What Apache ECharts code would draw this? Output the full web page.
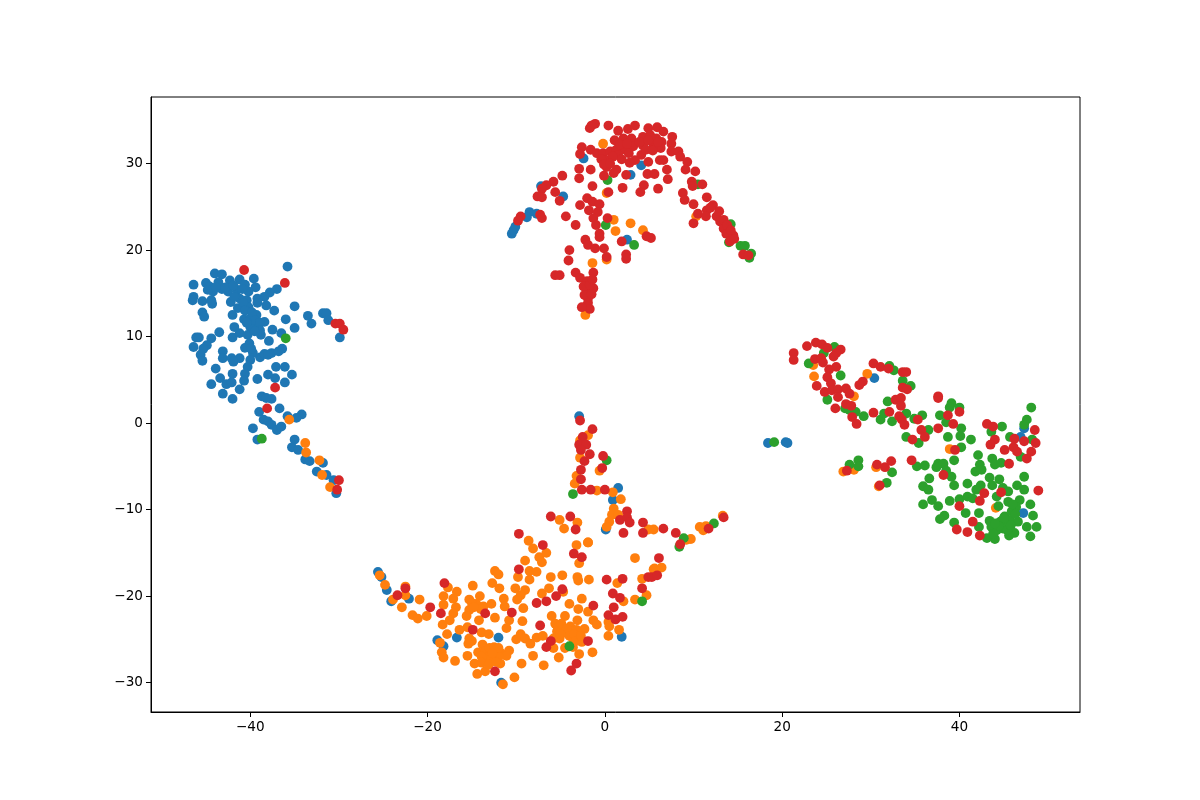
<!DOCTYPE html>
<html>
<head>
<meta charset="utf-8">
<title>scatter</title>
<script src="https://cdn.jsdelivr.net/npm/echarts@6/dist/echarts.min.js"></script>
<style>
  html, body { margin: 0; padding: 0; background: #fff; }
  #chart { width: 1200px; height: 800px; }
</style>
</head>
<body>
<div id="chart"></div>
<script>
const xTicks = [-40, -20, 0, 20, 40]
const yTicks = [-30, -20, -10, 0, 10, 20, 30]

const bluePoints = [
  [-35.8,18.1],[-44.0,17.3],[-43.2,17.2],[-39.6,16.7],[-46.4,16.0],[-45.0,16.2],[-44.6,15.8],[-43.6,16.3],[-42.3,16.5],[-41.2,16.6],
  [-40.6,16.0],[-39.4,15.7],[-44.2,15.2],[-43.2,15.5],[-42.5,15.2],[-41.5,15.4],[-40.2,15.2],[-37.0,15.5],[-37.8,15.1],[-38.4,14.6],
  [-39.2,14.4],[-39.2,13.9],[-46.4,14.6],[-46.5,14.2],[-45.4,14.1],[-44.3,13.8],[-44.4,14.2],[-42.2,14.0],[-41.2,14.4],[-40.4,14.2],
  [-41.4,13.3],[-40.2,13.4],[-38.2,13.6],[-35.0,13.5],[-37.3,13.0],[-45.4,12.8],[-45.2,12.3],[-42.0,12.5],[-39.3,12.5],[-40.7,12.0],
  [-40.0,12.1],[-39.7,11.5],[-36.0,12.0],[-33.5,12.4],[-33.1,11.5],[-31.8,12.7],[-31.4,12.7],[-31.2,11.9],[-41.8,11.1],[-40.0,11.1],
  [-38.4,11.7],[-39.1,11.0],[-38.8,10.2],[-37.5,10.8],[-36.5,10.4],[-35.0,11.0],[-43.5,10.5],[-46.1,9.9],[-45.8,9.9],[-44.4,9.8],
  [-42.0,9.9],[-41.2,10.4],[-40.3,10.2],[-40.1,9.2],[-37.9,9.5],[-44.9,9.0],[-46.4,8.8],[-45.3,8.6],[-45.6,7.9],[-45.4,7.2],
  [-43.1,8.3],[-43.1,7.5],[-42.1,7.5],[-41.2,7.5],[-41.9,7.1],[-39.7,8.1],[-40.0,7.3],[-40.3,6.5],[-38.9,7.6],[-38.4,8.0],
  [-37.6,8.1],[-36.8,8.3],[-36.4,8.6],[-43.9,6.3],[-40.6,5.7],[-43.4,5.2],[-42.0,5.7],[-38.0,5.6],[-37.1,6.5],[-36.1,6.5],
  [-35.3,5.6],[-37.2,5.2],[-36.1,4.7],[-39.2,5.1],[-40.7,4.9],[-44.4,4.5],[-42.7,4.5],[-42.1,4.7],[-43.1,3.4],[-41.2,3.9],
  [-42.0,2.8],[-38.7,3.1],[-37.6,2.8],[-38.2,2.9],[-36.7,1.7],[-39.0,1.3],[-35.8,0.8],[-34.2,1.0],[-34.8,0.6],[-38.5,0.4],
  [-38.0,0.2],[-37.6,-0.2],[-37.0,-0.8],[-39.7,-0.6],[-39.2,-1.9],[-36.5,-0.4],[-35.0,-1.9],[-35.3,-2.8],[-34.6,-3.1],[-33.8,-4.2],
  [-33.3,-4.4],[-31.8,-4.6],[-32.5,-5.6],[-31.4,-6.0],[-30.6,-6.6],[-30.3,-8.1],[-29.9,9.9],
  [-40.8,13.9],[-41.8,14.6],[-40.6,13.0],[-39.8,12.8],[-39.5,11.9],[-38.9,11.6],[-40.4,11.6],[-44.8,15.4],[-43.9,15.7],[-42.8,15.7],
  [-41.9,15.9],[-40.9,15.5],[-38.9,10.7],[-39.5,10.6],[-40.6,8.7],[-39.9,8.6],[-38.0,7.9],
  [-7.2,27.4],[-2.4,30.6],[4.1,29.8],[2.9,28.7],[-4.7,26.2],[-8.5,24.4],[-8.8,23.8],[-7.7,24.2],[-10.1,22.7],[-10.5,21.9],
  [-10.3,22.3],[2.5,21.2],
  [30.4,5.2],[47.3,-0.6],[46.9,-1.6],[47.2,-10.4],[20.4,-2.2],[20.6,-2.3],[18.4,-2.3],
  [-25.6,-17.2],[-25.2,-17.8],[-24.6,-19.3],[-24.1,-20.6],[-22.1,-20.3],[-18.9,-25.1],[-16.7,-24.8],[-12.0,-24.8],[-18.2,-25.8],[1.9,-24.7],
  [-11.7,-30.0],[-2.9,0.8],[1.5,-7.5],[0.9,-8.9],[0.1,-12.3]
]

const orangePoints = [
  [-35.6,0.4],[-33.8,-2.3],[-33.7,-3.4],[-32.2,-4.3],[-31.9,-6.0],[-31.0,-7.4],
  [-0.2,32.3],[0.2,26.6],[1.0,23.5],[1.2,22.2],[2.9,23.1],[4.3,22.3],[-1.4,18.5],[0.2,18.9],[-2.2,12.5],[10.3,23.9],
  [23.6,5.4],[29.6,5.7],[28.1,3.1],[23.5,6.7],[38.9,-3.0],[26.9,-5.6],[28.1,-5.4],[30.6,-5.1],[30.9,-7.3],[44.1,-9.8],
  [-25.4,-17.6],[-24.8,-18.7],[-23.9,-20.4],[-22.9,-21.3],[-22.5,-18.9],[-22.5,-19.9],[-20.9,-20.4],[-21.7,-22.2],[-21.1,-22.6],[-20.1,-22.3],
  [-17.7,-19.0],[-16.7,-19.5],[-18.2,-20.0],[-17.1,-20.3],[-18.2,-21.0],[-16.8,-21.3],[-17.1,-22.0],[-17.5,-22.8],[-18.3,-23.3],[-16.4,-23.9],
  [-15.5,-23.6],[-17.8,-24.4],[-14.9,-18.8],[-15.3,-20.4],[-14.1,-20.0],[-14.5,-20.9],[-13.7,-21.2],[-12.8,-20.9],[-15.3,-21.6],[-15.6,-22.3],
  [-14.2,-22.8],[-12.4,-22.5],[-11.4,-20.3],[-11.3,-21.2],[-10.8,-22.8],[-11.1,-23.7],[-12.7,-18.5],[-11.9,-19.1],[-12.4,-17.1],[-12.0,-17.5],
  [-10.1,-19.1],[-9.0,-19.3],[-9.5,-19.9],[-9.9,-20.4],[-9.2,-21.4],[-9.3,-22.9],[-9.0,-15.9],[-9.8,-17.8],[-8.5,-18.1],[-8.5,-17.1],
  [-7.7,-17.2],[-6.1,-17.8],[-4.8,-17.6],[-3.1,-17.8],[-3.0,-18.2],[-1.8,-18.1],[-8.6,-13.6],[-8.1,-14.5],[-7.4,-15.5],[-7.1,-16.1],
  [-6.6,-15.0],[-1.9,-13.8],[-3.2,-14.1],[-2.9,-16.2],[3.4,-15.6],[1.4,-18.5],[2.1,-20.6],[4.2,-18.0],[3.4,-20.4],[4.7,-19.9],
  [-7.1,-19.7],[-6.3,-19.1],[-4.0,-20.9],[-2.6,-20.3],[-3.0,-21.5],[-1.9,-21.8],[-6.0,-22.3],[-4.5,-22.3],[-3.1,-22.8],[-1.3,-22.8],
  [-0.9,-23.3],[-5.6,-23.2],[-3.9,-23.5],[-2.3,-23.8],[-4.8,-23.9],[-5.4,-24.1],[-4.3,-24.3],[0.4,-23.0],[0.5,-23.5],[1.6,-23.9],
  [0.4,-24.6],[-13.9,-24.2],[-13.1,-24.4],[-15.3,-24.9],[-15.0,-25.2],[-15.4,-25.5],[-18.6,-25.4],[-18.4,-26.5],[-18.2,-27.1],[-16.9,-27.5],
  [-15.5,-26.9],[-13.8,-25.6],[-14.3,-26.5],[-13.5,-26.4],[-12.4,-26.4],[-11.7,-26.6],[-10.8,-26.3],[-11.1,-26.9],[-13.3,-27.2],[-12.8,-27.2],
  [-14.7,-27.8],[-11.8,-27.8],[-13.5,-28.7],[-14.4,-29.0],[-10.2,-29.4],[-11.5,-30.2],[-9.4,-27.8],[-8.1,-26.9],[-6.9,-28.0],[-5.2,-27.1],
  [-2.9,-26.7],[-1.4,-26.5],[-10.0,-25.0],[-9.5,-24.4],[-9.0,-24.9],[-8.4,-25.5],[-7.7,-24.8],[-7.0,-24.6],[-5.8,-24.9],[-5.1,-24.9],
  [-4.5,-26.0],[-5.8,-26.0],[-3.6,-24.9],[-3.0,-24.7],[-2.6,-25.3],[-3.6,-25.9],[5.5,-16.9],[-4.7,-19.5],[-13.0,-26.9],[-12.0,-27.0],
  [-13.9,-27.0],[-13.0,-26.0],[-12.5,-25.9],[-12.0,-26.0],[-13.9,-27.7],[-13.1,-27.9],[-12.3,-27.6],[-12.7,-26.6],[-5.3,-23.6],[-4.9,-23.2],
  [-4.3,-23.8],[-4.0,-24.6],[-5.0,-24.4],[-3.2,-23.9],[-3.5,-24.4],[-3.3,-25.2],[-2.7,-24.6],[-15.0,-20.8],[-14.0,-21.5],[-14.8,-21.3],
  [-1.9,-1.4],[-2.8,-2.0],[-2.8,-4.0],[-0.6,-5.5],[-3.2,-6.1],[-3.4,-7.0],[-0.9,-7.8],[0.9,-8.0],[1.8,-8.8],[1.0,-9.9],
  [0.8,-10.6],[0.5,-11.4],[0.2,-12.0],[1.5,-10.6],[-5.1,-11.2],[-3.1,-11.5],[-4.6,-12.2],[4.9,-12.3],[5.5,-12.3],[9.7,-13.4],
  [9.2,-13.5],[10.7,-12.0],[11.1,-12.4],[11.4,-11.9],[13.3,-10.7],[-1.9,-13.8],[5.6,-16.8],[6.4,-16.7]
]

const greenPoints = [
  [-36.0,9.8],[-38.7,-1.8],
  [0.3,28.1],[10.5,27.6],[0.1,22.9],[3.3,20.6],[14.2,23.0],[14.0,20.9],[15.3,20.5],[15.8,20.5],[16.5,19.6],[16.3,19.1],
  [19.1,-2.2],[23.0,6.9],[24.7,8.1],[25.9,8.8],[26.6,5.5],[25.1,2.7],[27.1,1.7],[27.6,1.5],[28.3,1.3],[29.2,0.8],
  [31.1,0.4],[31.5,1.1],[32.4,0.2],[32.1,6.6],[32.6,6.1],[33.6,4.9],[34.5,4.3],[31.9,2.5],[34.0,1.1],[34.9,0.5],
  [35.8,0.9],[36.5,-0.8],[34.0,-1.6],[35.4,-2.3],[39.1,2.3],[38.9,1.8],[40.0,1.8],[37.8,0.9],[38.5,0.1],[40.2,-0.6],
  [40.1,-1.5],[38.7,-1.6],[41.3,-1.9],[40.2,-2.8],[39.4,-4.3],[42.1,-3.7],[42.3,-4.8],[41.8,-5.6],[42.5,-5.4],[35.2,-5.0],
  [36.1,-4.9],[36.6,-6.4],[35.9,-7.3],[36.5,-7.7],[37.6,-4.7],[38.2,-4.7],[37.4,-5.1],[38.5,-5.5],[39.1,-6.2],[39.4,-7.2],
  [40.9,-7.0],[42.4,-7.2],[41.9,-7.7],[35.9,-9.4],[36.9,-8.9],[37.6,-9.6],[38.9,-9.0],[40.0,-8.8],[40.9,-8.5],[41.5,-8.7],
  [43.4,-6.3],[44.5,-6.5],[43.7,-7.2],[43.7,-4.1],[44.0,-4.8],[44.7,-4.6],[44.8,-0.4],[43.6,-1.0],[45.7,-1.6],[48.1,1.8],
  [47.6,0.4],[47.3,-0.2],[48.2,-1.9],[46.9,-3.9],[47.3,-6.2],[46.5,-7.2],[47.3,-7.7],[44.2,-8.5],[44.9,-7.5],[45.5,-7.9],
  [45.5,-9.1],[46.8,-8.9],[48.0,-9.4],[46.4,-9.7],[45.9,-10.2],[44.4,-9.6],[40.7,-10.4],[42.2,-10.4],[38.3,-10.7],[37.8,-11.1],
  [39.4,-11.5],[42.2,-12.0],[43.4,-11.3],[43.6,-12.0],[44.6,-11.4],[45.1,-10.8],[45.7,-11.2],[46.6,-11.4],[47.6,-12.0],[48.3,-10.7],
  [48.7,-12.0],[48.0,-13.1],[46.2,-12.7],[45.6,-13.0],[44.0,-13.4],[43.1,-13.3],[44.2,-12.4],[44.9,-12.2],[27.6,-4.8],[28.6,-4.3],
  [28.6,-5.0],[32.4,-5.7],[31.8,-6.9],[44.8,-11.9],[45.1,-11.5],[45.4,-12.4],[45.0,-11.0],[44.4,-11.9],[46.0,-9.4],[45.8,-11.8],
  [44.0,-11.6],[43.8,-12.8],[46.3,-10.5],
  [-4.0,-25.8],[4.2,-20.6],[-3.6,-8.2],[0.2,-4.3],[8.9,-13.3],[8.4,-14.3],[12.3,-11.6]
]

const redPoints = [
  [-40.7,17.7],[-36.1,16.2],[-37.2,4.1],[-38.1,1.7],[-30.4,11.5],[-29.9,11.5],[-29.5,10.8],[-30.0,-6.6],[-30.2,-7.7],
  [-1.7,34.1],[-1.1,34.6],[-1.5,34.4],[0.4,34.4],[1.5,33.8],[2.6,34.0],[3.4,34.4],[4.9,34.1],[5.9,34.2],[6.6,33.7],
  [7.6,33.1],[1.1,32.7],[2.1,32.9],[3.0,32.9],[4.3,33.1],[5.1,33.3],[5.8,32.9],[6.4,32.5],[4.3,32.1],[5.5,32.0],
  [-2.6,31.9],[-2.8,31.1],[-1.6,31.6],[-0.9,31.2],[-0.2,31.2],[0.6,31.4],[1.3,31.6],[2.3,31.6],[3.2,32.0],[7.5,32.3],
  [7.5,31.4],[8.3,31.4],[8.5,30.8],[4.1,31.0],[4.9,30.2],[3.4,30.4],[6.2,30.4],[6.6,30.4],[9.3,30.2],[0.2,30.4],
  [0.2,29.6],[1.3,29.3],[1.0,28.9],[-2.9,29.4],[-1.6,29.3],[-0.1,28.6],[2.4,28.7],[4.8,28.8],[5.6,28.8],[7.0,29.3],
  [9.1,29.3],[10.2,29.1],[7.1,28.2],[-2.9,28.3],[-4.8,28.6],[-5.8,27.9],[-6.6,27.5],[-7.1,27.1],[-7.6,26.2],[-7.1,26.1],
  [-5.6,26.7],[-5.1,25.7],[-1.4,27.4],[0.4,26.7],[2.0,27.2],[4.4,27.5],[4.0,26.7],[6.0,27.1],[9.8,27.9],[11.0,27.6],
  [8.8,26.6],[9.0,25.8],[10.0,25.3],[11.5,26.1],[12.2,25.2],[11.5,24.6],[10.5,24.2],[11.4,23.9],[12.6,23.9],[13.0,23.3],
  [10.0,23.1],[13.4,22.5],[13.7,21.9],[14.5,21.7],[14.1,21.0],[-2.0,26.0],[-1.4,25.6],[-0.6,25.3],[-2.8,25.2],[-1.8,24.6],
  [-0.8,24.4],[-1.3,23.7],[0.3,23.7],[-1.0,22.9],[-4.4,23.9],[-3.3,22.9],[-9.5,23.9],[-9.8,23.4],[-7.3,24.1],[-7.1,23.7],
  [-0.6,21.9],[-0.6,21.5],[-2.2,21.2],[-1.9,20.6],[-1.1,20.2],[-0.1,20.2],[0.2,19.2],[1.9,21.0],[2.4,19.5],[2.4,19.0],
  [4.7,21.6],[5.2,21.4],[-4.0,20.0],[-4.1,18.8],[-5.6,17.1],[-5.1,17.1],[-3.3,17.4],[-2.8,16.8],[-1.3,17.4],[-2.0,16.4],
  [-1.3,15.6],[-2.0,15.2],[-1.9,14.4],[-2.1,13.5],[-2.4,15.8],[15.6,19.5],[16.2,19.4],[4.6,31.6],[5.2,32.6],[6.3,31.8],
  [3.9,32.5],[4.9,32.7],[5.9,31.9],[6.0,32.5],[1.5,31.0],[2.7,31.2],[1.9,30.5],[2.8,30.1],[0.9,30.8],[-0.4,30.5],
  [-0.1,29.9],[0.6,30.0],[1.7,32.2],[2.5,32.3],[5.4,31.5],[12.9,24.5],[13.4,23.5],[13.8,22.9],[14.2,22.3],[14.6,21.3],
  [9.9,27.4],[11.9,24.9],[-1.7,16.0],[-2.3,14.8],[-1.5,14.9],[-1.9,13.9],[-1.7,13.2],[-2.6,13.4],[-1.4,16.6],
  [21.3,8.1],[21.3,7.3],[22.8,8.9],[23.8,9.3],[24.5,9.1],[25.1,8.7],[26.6,8.5],[26.1,8.1],[25.8,7.7],[23.7,7.4],
  [24.4,7.5],[24.6,7.0],[26.1,6.5],[25.3,6.2],[25.1,5.3],[25.5,4.6],[23.9,4.3],[24.8,3.6],[25.6,3.8],[26.3,3.9],
  [27.2,4.0],[27.6,3.4],[26.3,3.0],[27.2,2.2],[27.8,2.0],[26.0,1.7],[27.9,0.7],[28.4,-0.1],[30.3,6.9],[31.1,6.5],
  [32.0,6.3],[33.6,5.9],[34.0,5.9],[29.1,4.8],[28.7,4.4],[33.6,4.1],[34.1,3.9],[32.8,2.7],[33.4,2.9],[33.4,2.0],
  [30.3,1.2],[32.1,1.3],[33.2,0.8],[33.5,0.4],[33.8,-0.2],[35.3,0.4],[37.6,3.1],[37.6,2.9],[40.0,1.3],[38.7,0.9],
  [39.3,-0.1],[37.6,-0.6],[35.7,-0.8],[36.1,-1.6],[34.7,-1.9],[39.5,-3.1],[34.6,-4.3],[30.7,-4.8],[31.6,-5.1],[32.3,-4.4],
  [38.2,-6.0],[27.3,-5.5],[31.0,-7.2],[43.1,-0.1],[43.8,-0.4],[44.0,-1.9],[43.5,-2.5],[46.2,-1.8],[47.3,-2.1],[48.5,-0.8],
  [48.6,-2.3],[48.1,-3.3],[45.1,-3.1],[46.1,-2.8],[46.5,-3.3],[47.6,-4.1],[45.6,-4.7],[48.9,-7.8],[44.7,-8.0],[42.8,-8.1],
  [42.3,-9.0],[40.0,-9.6],[41.5,-11.4],[39.7,-12.3],[40.9,-12.6],[42.3,-13.0],
  [-23.4,-19.9],[-22.5,-19.1],[-18.1,-18.5],[-19.7,-21.3],[-18.5,-22.0],[-13.5,-22.0],[-10.5,-21.9],[-14.9,-23.9],[-9.7,-16.9],[-9.7,-12.8],
  [-7.0,-14.1],[-3.5,-15.1],[-2.6,-15.5],[-4.8,-19.2],[-5.5,-20.0],[-6.6,-20.6],[-7.7,-20.8],[-1.3,-21.1],[-7.3,-23.4],[-6.1,-25.2],
  [-6.6,-25.9],[-1.9,-25.2],[-3.2,-27.8],[-3.8,-28.6],[-12.4,-28.7],[0.2,-18.1],[2.0,-18.0],[0.9,-19.7],[1.7,-20.2],[1.0,-21.3],
  [0.4,-22.2],[1.2,-22.7],[2.0,-22.4],[4.2,-19.1],[4.9,-17.8],[5.3,-17.8],[5.9,-17.6],[6.1,-15.6],
  [-2.8,0.3],[-1.4,-0.7],[-2.5,-1.6],[-2.9,-2.5],[-2.1,-2.5],[-2.7,-3.1],[-1.7,-3.6],[-2.3,-4.4],[-0.2,-3.8],[-0.3,-5.2],
  [-2.7,-5.4],[-2.7,-6.5],[-2.6,-7.7],[-1.6,-7.7],[0.0,-7.7],[-6.1,-10.8],[-3.9,-10.8],[-3.3,-12.3],[2.5,-10.2],[1.7,-11.2],
  [2.5,-10.9],[2.8,-11.5],[2.1,-12.7],[4.3,-11.5],[4.3,-12.7],[6.6,-12.2],[8.0,-12.7],[8.5,-14.0],[11.7,-12.2],[13.4,-10.9]
]

const groups = [
  { data: bluePoints, color: '#1f77b4' },
  { data: orangePoints, color: '#ff7f0e' },
  { data: greenPoints, color: '#2ca02c' },
  { data: redPoints, color: '#d62728' }
]

function tickLabel(v) {
  return String(v).replace('-', '\u2212')
}

function axisStyle(ticks) {
  return {
    type: 'value',
    scale: false,
    splitLine: { show: false },
    axisLine: { show: true, onZero: false, lineStyle: { color: '#000', width: 1 } },
    axisTick: { show: true, customValues: ticks, length: 5, inside: false, lineStyle: { color: '#000', width: 1 } },
    axisLabel: {
      show: true,
      customValues: ticks,
      formatter: tickLabel,
      color: '#000',
      fontFamily: 'DejaVu Sans',
      fontSize: 13.6,
      margin: 8,
      showMinLabel: true,
      showMaxLabel: true
    }
  }
}

const chart = echarts.init(document.getElementById('chart'), null, { renderer: 'canvas' })
chart.setOption({
  animation: false,
  backgroundColor: '#fff',
  grid: {
    show: true,
    left: 151,
    right: 120,
    top: 97,
    bottom: 88,
    borderColor: '#000',
    borderWidth: 1,
    backgroundColor: '#fff'
  },
  xAxis: Object.assign(axisStyle(xTicks), { min: -51.2, max: 53.6 }),
  yAxis: Object.assign(axisStyle(yTicks), { min: -33.4, max: 37.7 }),
  series: groups.map((g, i) => ({
    type: 'scatter',
    data: g.data,
    z: 2 + i,
    symbol: 'circle',
    symbolSize: 9.8,
    itemStyle: { color: g.color, opacity: 1 },
    silent: true
  }))
})
</script>
</body>
</html>
